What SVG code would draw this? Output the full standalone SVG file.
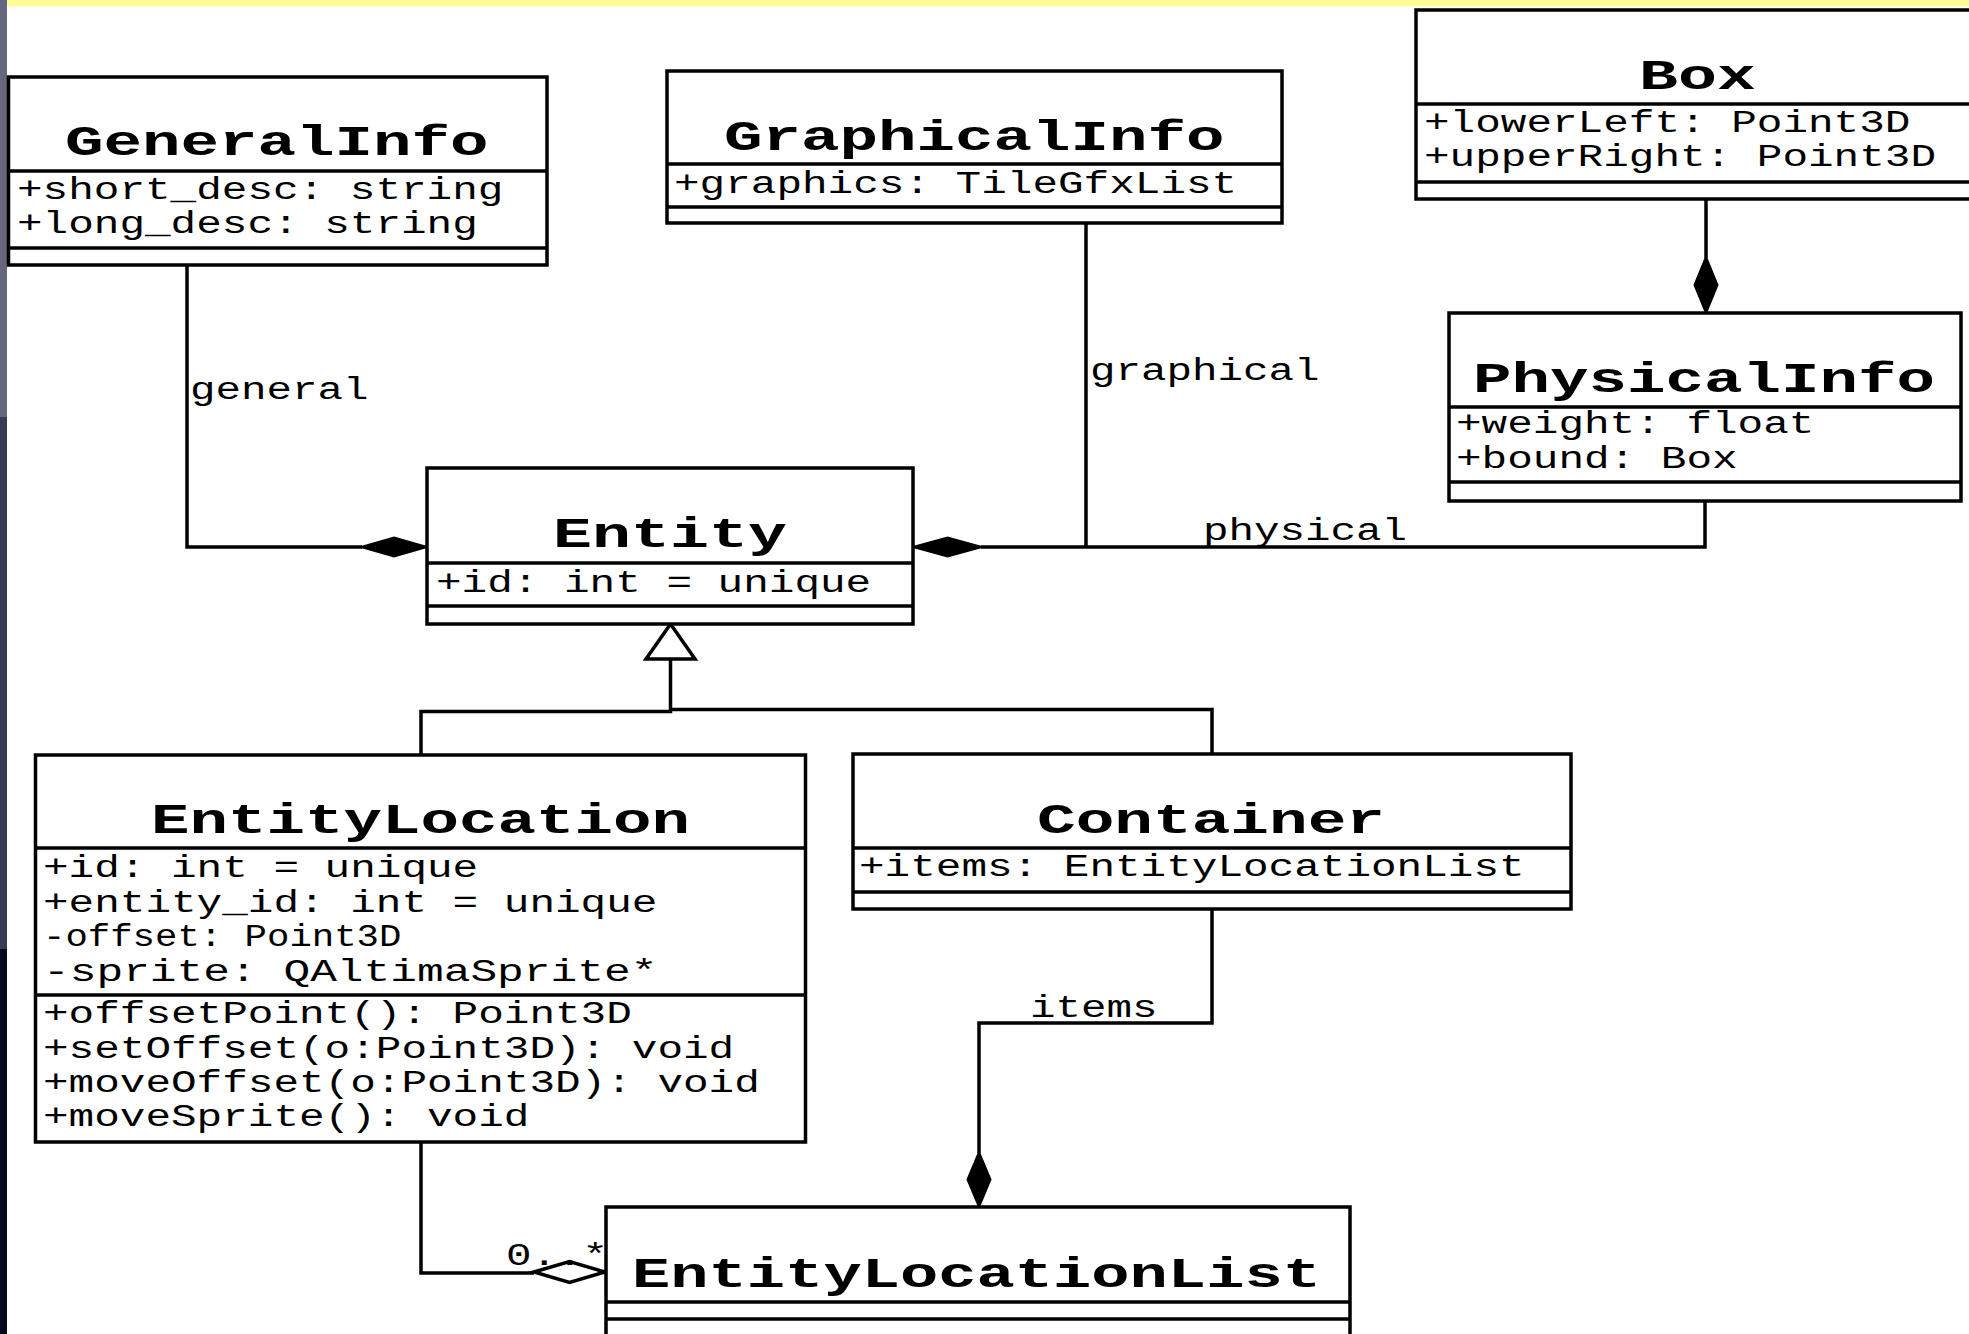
<svg xmlns="http://www.w3.org/2000/svg" width="1969" height="1334" viewBox="0 0 1969 1334">
<style>
  .bg { fill: #ffffff; }
  .box { fill: #ffffff; stroke: #000000; stroke-width: 3.5; }
  .sep { stroke: #000000; stroke-width: 3.5; fill: none; }
  .conn { fill: none; stroke: #000000; stroke-width: 3.5; stroke-linejoin: miter; }
  .fd { fill: #000000; stroke: #000000; stroke-width: 2; stroke-linejoin: miter; }
  .hd { fill: #ffffff; stroke: #000000; stroke-width: 3.5; stroke-linejoin: miter; }
  .tri { fill: #ffffff; stroke: #000000; stroke-width: 3.5; stroke-linejoin: miter; }
  .title { font-family: "Liberation Mono", "Courier New", monospace; font-weight: bold; font-size: 42px; fill: #000000; }
  .attr { font-family: "Liberation Mono", "Courier New", monospace; font-size: 31px; fill: #000000; }
  .lbl { font-family: "Liberation Mono", "Courier New", monospace; font-size: 31px; fill: #000000; }
</style>
<rect class="bg" x="0" y="0" width="1969" height="1334"/>
<rect x="7" y="0" width="1962" height="6.5" fill="#fffb96"/>
<rect x="0" y="0" width="7" height="417" fill="#66667e"/>
<rect x="0" y="417" width="7" height="532" fill="#3a3a54"/>
<rect x="0" y="949" width="7" height="385" fill="#0a0a1e"/>

<g id="connectors">
  <!-- general -->
  <path class="conn" d="M187,265 V547 H362"/>
  <polygon class="fd" points="427,547 394,537.5 361,547 394,556.5"/>
  <!-- graphical -->
  <path class="conn" d="M1086,223 V547"/>
  <!-- physical -->
  <path class="conn" d="M1705,501 V547 H981"/>
  <polygon class="fd" points="913,547 947.5,537.5 982,547 947.5,556.5"/>
  <!-- Box -> PhysicalInfo -->
  <path class="conn" d="M1706,199 V258"/>
  <polygon class="fd" points="1706,313 1717.5,285 1706,257 1694.5,285"/>
  <!-- inheritance -->
  <path class="conn" d="M670.5,659 V711.5 H421 V755"/>
  <path class="conn" d="M670.5,709.5 H1212 V754"/>
  <polygon class="tri" points="670.5,624 695,659 646,659"/>
  <!-- items -->
  <path class="conn" d="M1212,909 V1023 H979 V1153"/>
  <polygon class="fd" points="979,1207 990.5,1179.5 979,1152 967.5,1179.5"/>
  <!-- 0..* -->
  <path class="conn" d="M421,1142 V1273 H534"/>
  <polygon class="hd" points="534,1272 569.5,1261.5 605,1272 569.5,1282.5"/>
  <!-- labels -->
  <text class="lbl" x="190" y="399" textLength="178.5" lengthAdjust="spacingAndGlyphs">general</text>
  <text class="lbl" x="1090" y="380" textLength="229.5" lengthAdjust="spacingAndGlyphs">graphical</text>
  <text class="lbl" x="1203" y="540" textLength="204" lengthAdjust="spacingAndGlyphs">physical</text>
  <text class="lbl" x="1030" y="1017" textLength="127.5" lengthAdjust="spacingAndGlyphs">items</text>
  <text class="lbl" x="506" y="1265" textLength="102" lengthAdjust="spacingAndGlyphs">0..*</text>
</g>

<g id="GeneralInfo">
  <rect class="box" x="8.5" y="77" width="538.5" height="188"/>
  <line class="sep" x1="8.5" y1="171" x2="547" y2="171"/>
  <line class="sep" x1="8.5" y1="248" x2="547" y2="248"/>
  <text class="title" x="65" y="155" textLength="423.5" lengthAdjust="spacingAndGlyphs">GeneralInfo</text>
  <text class="attr" x="17" y="199" textLength="486.4" lengthAdjust="spacingAndGlyphs">+short_desc: string</text>
  <text class="attr" x="17" y="233" textLength="460.8" lengthAdjust="spacingAndGlyphs">+long_desc: string</text>
</g>

<g id="GraphicalInfo">
  <rect class="box" x="667" y="71" width="615" height="152"/>
  <line class="sep" x1="667" y1="164" x2="1282" y2="164"/>
  <line class="sep" x1="667" y1="207" x2="1282" y2="207"/>
  <text class="title" x="724" y="150" textLength="500.5" lengthAdjust="spacingAndGlyphs">GraphicalInfo</text>
  <text class="attr" x="674" y="193" textLength="563.2" lengthAdjust="spacingAndGlyphs">+graphics: TileGfxList</text>
</g>

<g id="Box">
  <rect class="box" x="1416" y="10" width="570" height="189"/>
  <line class="sep" x1="1416" y1="104" x2="1986" y2="104"/>
  <line class="sep" x1="1416" y1="182" x2="1986" y2="182"/>
  <text class="title" x="1639" y="89" textLength="117" lengthAdjust="spacingAndGlyphs">Box</text>
  <text class="attr" x="1424" y="132" textLength="486.4" lengthAdjust="spacingAndGlyphs">+lowerLeft: Point3D</text>
  <text class="attr" x="1424" y="166" textLength="512" lengthAdjust="spacingAndGlyphs">+upperRight: Point3D</text>
</g>

<g id="PhysicalInfo">
  <rect class="box" x="1449" y="313" width="512" height="188"/>
  <line class="sep" x1="1449" y1="407" x2="1961" y2="407"/>
  <line class="sep" x1="1449" y1="482" x2="1961" y2="482"/>
  <text class="title" x="1473" y="392" textLength="462" lengthAdjust="spacingAndGlyphs">PhysicalInfo</text>
  <text class="attr" x="1456" y="433" textLength="358.4" lengthAdjust="spacingAndGlyphs">+weight: float</text>
  <text class="attr" x="1456" y="468" textLength="281.6" lengthAdjust="spacingAndGlyphs">+bound: Box</text>
</g>

<g id="Entity">
  <rect class="box" x="427" y="468" width="486" height="156"/>
  <line class="sep" x1="427" y1="563" x2="913" y2="563"/>
  <line class="sep" x1="427" y1="606" x2="913" y2="606"/>
  <text class="title" x="553" y="547" textLength="234" lengthAdjust="spacingAndGlyphs">Entity</text>
  <text class="attr" x="436" y="592" textLength="435.2" lengthAdjust="spacingAndGlyphs">+id: int = unique</text>
</g>

<g id="EntityLocation">
  <rect class="box" x="35.5" y="755" width="770" height="387"/>
  <line class="sep" x1="35.5" y1="848" x2="805.5" y2="848"/>
  <line class="sep" x1="35.5" y1="995" x2="805.5" y2="995"/>
  <text class="title" x="151" y="833" textLength="539" lengthAdjust="spacingAndGlyphs">EntityLocation</text>
  <text class="attr" x="43" y="877" textLength="435.2" lengthAdjust="spacingAndGlyphs">+id: int = unique</text>
  <text class="attr" x="43" y="911.5" textLength="614.4" lengthAdjust="spacingAndGlyphs">+entity_id: int = unique</text>
  <text class="attr" x="43" y="946" textLength="358.4" lengthAdjust="spacingAndGlyphs">-offset: Point3D</text>
  <text class="attr" x="43" y="980.5" textLength="614.4" lengthAdjust="spacingAndGlyphs">-sprite: QAltimaSprite*</text>
  <text class="attr" x="43" y="1023" textLength="588.8" lengthAdjust="spacingAndGlyphs">+offsetPoint(): Point3D</text>
  <text class="attr" x="43" y="1057.5" textLength="691.2" lengthAdjust="spacingAndGlyphs">+setOffset(o:Point3D): void</text>
  <text class="attr" x="43" y="1092" textLength="716.8" lengthAdjust="spacingAndGlyphs">+moveOffset(o:Point3D): void</text>
  <text class="attr" x="43" y="1126" textLength="486.4" lengthAdjust="spacingAndGlyphs">+moveSprite(): void</text>
</g>

<g id="Container">
  <rect class="box" x="853" y="754" width="718" height="155"/>
  <line class="sep" x1="853" y1="848" x2="1571" y2="848"/>
  <line class="sep" x1="853" y1="892" x2="1571" y2="892"/>
  <text class="title" x="1037" y="833" textLength="348" lengthAdjust="spacingAndGlyphs">Container</text>
  <text class="attr" x="859" y="876" textLength="665.6" lengthAdjust="spacingAndGlyphs">+items: EntityLocationList</text>
</g>

<g id="EntityLocationList">
  <rect class="box" x="606" y="1207" width="744" height="160"/>
  <line class="sep" x1="606" y1="1302" x2="1350" y2="1302"/>
  <line class="sep" x1="606" y1="1319" x2="1350" y2="1319"/>
  <text class="title" x="632" y="1287" textLength="689" lengthAdjust="spacingAndGlyphs">EntityLocationList</text>
</g>
</svg>
